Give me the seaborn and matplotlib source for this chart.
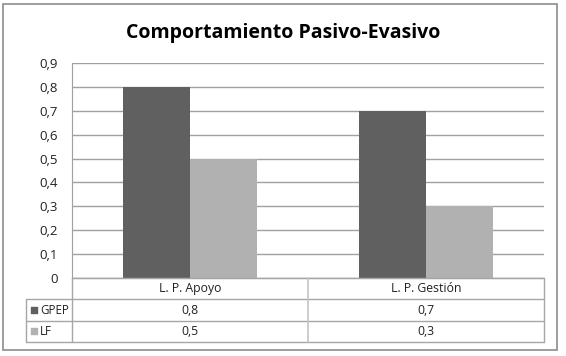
import matplotlib
matplotlib.use('Agg')
import matplotlib.pyplot as plt
import seaborn as sns
import pandas as pd

# data
categories = ['L. P. Apoyo', 'L. P. Gestión']
series = ['GPEP', 'LF']
gpep = [0.8, 0.7]
lf = [0.5, 0.3]
colors = ['#606060', '#b1b1b1']

df = pd.DataFrame({
    'categoria': categories * 2,
    'serie': ['GPEP'] * 2 + ['LF'] * 2,
    'valor': gpep + lf,
})

sns.set_style('white')
plt.rcParams['font.family'] = ['Open Sans', 'DejaVu Sans']

W, H = 566, 356
fig = plt.figure(figsize=(W / 100, H / 100), dpi=100)

def px(l, t, r, b):
    return [l / W, 1 - b / H, (r - l) / W, (b - t) / H]

ax = fig.add_axes(px(72, 63, 544, 278))
sns.barplot(data=df, x='categoria', y='valor', hue='serie', palette=colors,
            width=0.568, gap=0, saturation=1, edgecolor='none', legend=False, ax=ax)
ax.set_xlim(-0.5, 1.5)
ax.set_ylim(0, 0.9)
ax.set_yticks([i / 10 for i in range(10)])
ax.set_yticklabels(['0' if i == 0 else f'0,{i}' for i in range(10)], fontsize=9.5, color='#222222')
ax.set_xticks([])
ax.set_xlabel('')
ax.set_ylabel('')
ax.yaxis.grid(True, color='#a0a0a0', linewidth=1)
ax.set_axisbelow(True)
ax.tick_params(axis='y', length=0, pad=10)
for s in ['top', 'right']:
    ax.spines[s].set_visible(False)
ax.spines['left'].set_color('#a0a0a0')
ax.spines['bottom'].set_color('#a0a0a0')

# data table below the plot
unit = (544 - 72) / 2
lab_w = (72 - 26) / unit
tax = fig.add_axes(px(26, 278, 544, 342))
tax.set_xlim(-0.5 - lab_w, 1.5)
tax.set_ylim(0, 3)
tax.axis('off')
lc = '#a6a6a6'
x0 = -0.5 - lab_w
tax.plot([-0.5, 1.5], [3, 3], color=lc, lw=1, clip_on=False)
for yy in [2, 1, 0]:
    tax.plot([x0, 1.5], [yy, yy], color=lc, lw=1, clip_on=False)
tax.plot([x0, x0], [0, 2], color=lc, lw=1, clip_on=False)
for xx in [-0.5, 0.5, 1.5]:
    tax.plot([xx, xx], [0, 3], color=lc if xx != 0.5 else '#c4c4c4', lw=1.2 if xx == 0.5 else 1, clip_on=False)

tfs = 8.8
for i, c in enumerate(categories):
    tax.text(i, 2.5, c, ha='center', va='center', fontsize=tfs, color='#222222')
rows = [gpep, lf]
for r, (name, vals, col) in enumerate(zip(series, rows, colors)):
    yc = 1.5 - r
    tax.scatter([x0 + 8 / unit], [yc], marker='s', s=20, color=col, clip_on=False)
    tax.text(x0 + 14 / unit, yc, name, ha='left', va='center', fontsize=8.3, color='#222222')
    for i, v in enumerate(vals):
        tax.text(i, yc, f'{v:.1f}'.replace('.', ','), ha='center', va='center',
                 fontsize=tfs, color='#222222')

fig.text(0.5, 1 - 33 / H, 'Comportamiento Pasivo-Evasivo', ha='center', va='center',
         fontsize=14, fontweight='bold', color='#000000')

# outer chart border
fig.patches.append(plt.Rectangle((3 / W, 1 - 350 / H), 554 / W, 346 / H, transform=fig.transFigure,
                                 fill=False, edgecolor='#8c8c8c', linewidth=1.2))

fig.savefig('out.png', dpi=100)
